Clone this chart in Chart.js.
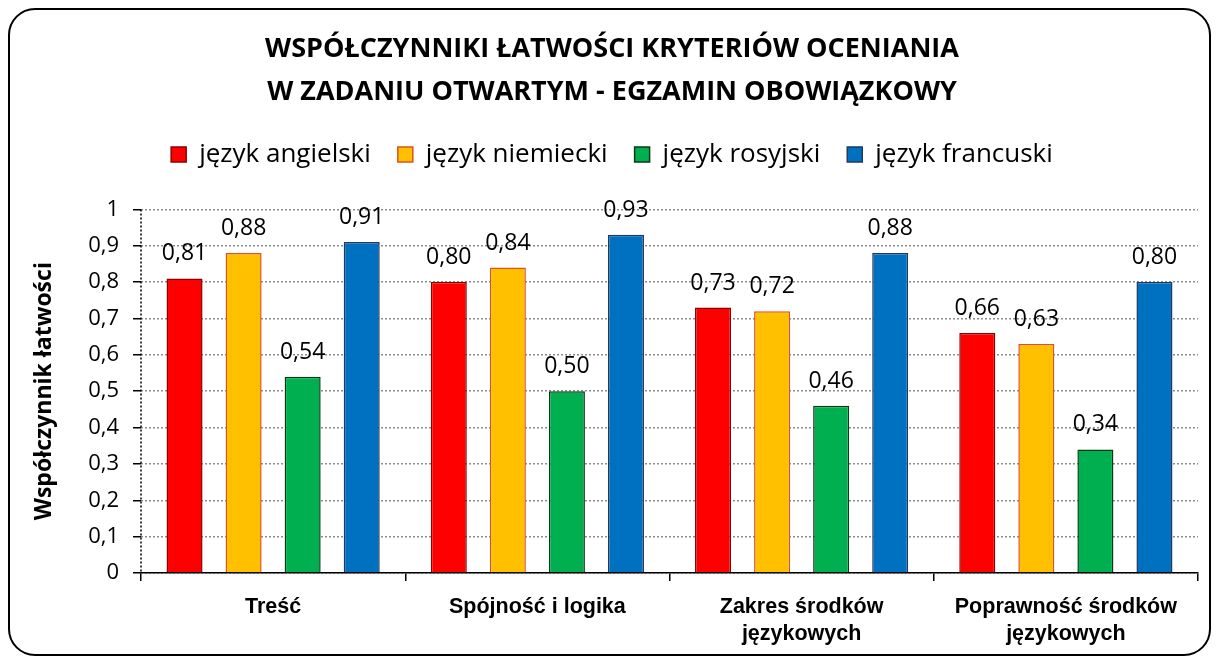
<!DOCTYPE html>
<html>
<head>
<meta charset="utf-8">
<script src="https://cdn.jsdelivr.net/npm/chart.js@4.4.0/dist/chart.umd.min.js"></script>
<style>
  html, body { margin: 0; padding: 0; background: #fff; }
  #wrap { width: 1219px; height: 664px; }
</style>
</head>
<body>
<div id="wrap"><canvas id="myChart" width="1219" height="664"></canvas></div>
<script>
// dane
const categories = ['Treść', 'Spójność i logika', ['Zakres środków', 'językowych'], ['Poprawność środków', 'językowych']];
const languages = ['język angielski', 'język niemiecki', 'język rosyjski', 'język francuski'];
const angielski = [0.81, 0.80, 0.73, 0.66];
const niemiecki = [0.88, 0.84, 0.72, 0.63];
const rosyjski = [0.54, 0.50, 0.46, 0.34];
const francuski = [0.91, 0.93, 0.88, 0.80];
const fillColors = ['#FF0000', '#FFC000', '#00B050', '#0070C0'];
const edgeColors = ['#8B0000', '#E0501A', '#0A3A14', '#1F3864'];

const fmtTick = v => {
  v = Math.round(v * 10) / 10;
  return (v === 0 || v === 1) ? String(v) : v.toFixed(1).replace('.', ',');
};

// ramka z zaokrąglonymi rogami
const frame = {
  id: 'frame',
  beforeDraw(chart) {
    const ctx = chart.ctx;
    ctx.save();
    ctx.fillStyle = '#fff';
    ctx.fillRect(0, 0, chart.width, chart.height);
    ctx.beginPath();
    ctx.roundRect(9, 9, 1201, 646, 26);
    ctx.lineWidth = 2;
    ctx.strokeStyle = '#000';
    ctx.stroke();
    ctx.restore();
  }
};

// kropkowana oś Y
const dottedAxis = {
  id: 'dottedAxis',
  beforeDatasetsDraw(chart) {
    const {ctx, chartArea} = chart;
    ctx.save();
    ctx.setLineDash([2, 2]);
    ctx.lineWidth = 1.5;
    ctx.strokeStyle = '#000';
    ctx.beginPath();
    ctx.moveTo(chartArea.left, chartArea.top);
    ctx.lineTo(chartArea.left, chartArea.bottom);
    ctx.stroke();
    ctx.restore();
  }
};

// etykiety wartości nad słupkami
const valueLabels = {
  id: 'valueLabels',
  afterDatasetsDraw(chart) {
    const ctx = chart.ctx;
    ctx.save();
    ctx.font = '23px "Open Sans"';
    ctx.fillStyle = '#000';
    ctx.textAlign = 'center';
    ctx.textBaseline = 'alphabetic';
    chart.data.datasets.forEach((ds, i) => {
      chart.getDatasetMeta(i).data.forEach((bar, j) => {
        ctx.fillText(ds.data[j].toFixed(2).replace('.', ','), bar.x, bar.y - 18);
      });
    });
    ctx.restore();
  }
};

const series = [angielski, niemiecki, rosyjski, francuski];

new Chart(document.getElementById('myChart'), {
  type: 'bar',
  data: {
    labels: categories,
    datasets: series.map((d, i) => ({
      label: languages[i],
      data: d,
      backgroundColor: fillColors[i],
      borderColor: edgeColors[i],
      borderWidth: 1.5,
      categoryPercentage: 0.894,
      barPercentage: 0.61
    }))
  },
  options: {
    responsive: false,
    animation: false,
    layout: { padding: { left: 26, right: 21, top: 0, bottom: 0 } },
    plugins: {
      title: {
        display: true,
        text: ['WSPÓŁCZYNNIKI ŁATWOŚCI KRYTERIÓW OCENIANIA', 'W ZADANIU OTWARTYM - EGZAMIN OBOWIĄZKOWY'],
        color: '#000',
        font: { family: 'Open Sans', size: 27, weight: 'bold', lineHeight: 1.6 },
        padding: { top: 28, bottom: 0 }
      },
      subtitle: {
        display: true,
        text: '',
        weight: 500,
        font: { size: 1, lineHeight: 1 },
        padding: { top: 0, bottom: 31 }
      },
      legend: {
        position: 'top',
        labels: {
          color: '#000',
          font: { family: 'Open Sans', size: 26 },
          boxWidth: 15,
          boxHeight: 15,
          padding: 27
        }
      },
      tooltip: { enabled: false }
    },
    scales: {
      x: {
        grid: { display: true, drawOnChartArea: false, color: '#000', lineWidth: 1.5, tickLength: 8 },
        border: { color: '#000', width: 1.5 },
        ticks: {
          color: '#000',
          font: { family: 'Liberation Sans', size: 21.5, weight: 'bold', lineHeight: 1.25 },
          padding: 13,
          maxRotation: 0
        },
        afterFit(scale) { scale.height = 91; }
      },
      y: {
        min: 0,
        max: 1,
        ticks: {
          stepSize: 0.1,
          color: '#000',
          font: { family: 'Open Sans', size: 22 },
          padding: 14,
          callback: v => fmtTick(v)
        },
        grid: { color: '#8c8c8c', lineWidth: 1.5, tickColor: '#000', tickLength: 8 },
        border: { display: false, dash: [2, 2] },
        title: {
          display: true,
          text: 'Współczynnik łatwości',
          color: '#000',
          font: { family: 'Open Sans', size: 23, weight: 'bold' },
          padding: { top: 5, bottom: 0 }
        },
        afterFit(scale) { scale.width = 115; }
      }
    }
  },
  plugins: [frame, dottedAxis, valueLabels]
});
</script>
</body>
</html>
